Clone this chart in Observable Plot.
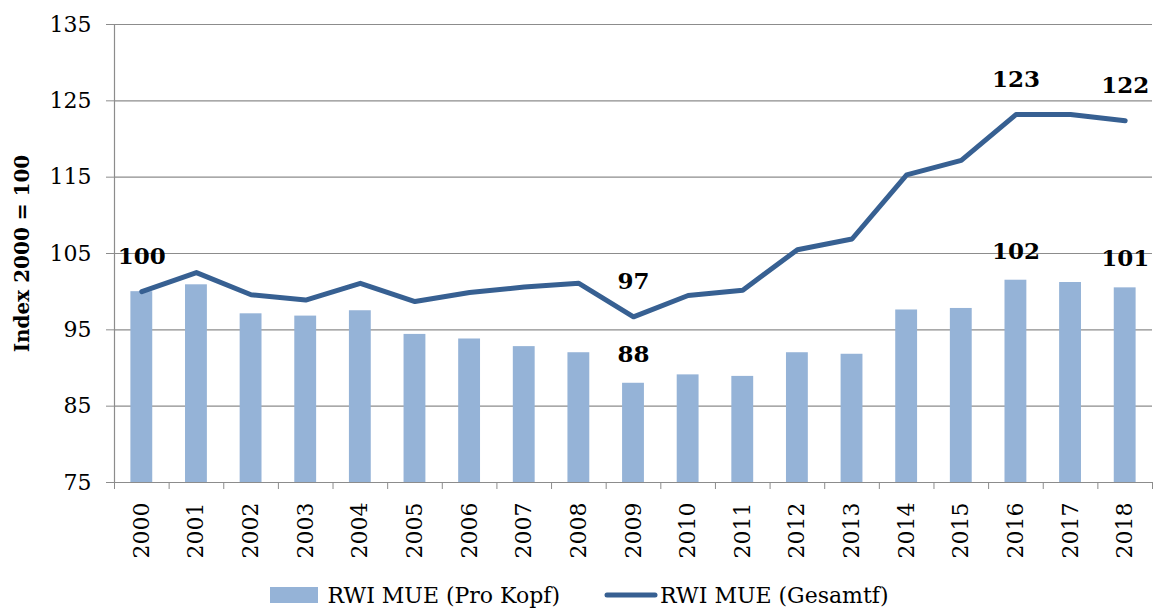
<!DOCTYPE html>
<html>
<head>
<meta charset="utf-8">
<script src="https://cdn.jsdelivr.net/npm/d3@7"></script>
<script src="https://cdn.jsdelivr.net/npm/@observablehq/plot@0.6"></script>
<style>
  body { margin: 0; background: #fff; font-family: "DejaVu Serif", serif; }
  #chart svg { display: block; }
  #legend { height: 38px; display: flex; justify-content: center; align-items: center; padding-top: 2px; box-sizing: border-box; font-size: 22px; color: #000; }
  .item { display: flex; align-items: center; }
  .item + .item { margin-left: 44px; }
  .label { margin-left: 9px; }
</style>
</head>
<body>
<div id="chart"></div>
<div id="legend"></div>
<script>
// ---- data ----
const years = [2000, 2001, 2002, 2003, 2004, 2005, 2006, 2007, 2008, 2009, 2010, 2011, 2012, 2013, 2014, 2015, 2016, 2017, 2018];
const proKopf = [100, 100.9, 97.1, 96.8, 97.5, 94.4, 93.8, 92.8, 92.0, 88.0, 89.1, 88.9, 92.0, 91.8, 97.6, 97.8, 101.5, 101.2, 100.5];
const gesamt = [100, 102.5, 99.6, 98.9, 101.1, 98.7, 99.9, 100.6, 101.1, 96.7, 99.5, 100.2, 105.5, 106.9, 115.3, 117.2, 123.2, 123.2, 122.4];
const seriesNames = ["RWI MUE (Pro Kopf)", "RWI MUE (Gesamtf)"];
const yTicks = [75, 85, 95, 105, 115, 125, 135];
const yTitle = "Index 2000 = 100";
const lineLabelYears = [2000, 2009, 2016, 2018];
const barLabelYears = [2009, 2016, 2018];

const barColor = "#95B3D7";
const lineColor = "#376092";
const gridColor = "#8c8c8c";

const rows = years.map((year, i) => ({year, pc: proKopf[i], ges: gesamt[i]}));
const lineLabels = rows.filter(d => lineLabelYears.includes(d.year));
const barLabels = rows.filter(d => barLabelYears.includes(d.year));
const boundaries = [years[0] - 0.5, ...years.map(y => y + 0.5)];

const chart = Plot.plot({
  width: 1159,
  height: 575,
  marginLeft: 114,
  marginRight: 7,
  marginTop: 24,
  marginBottom: 93,
  style: {fontFamily: "DejaVu Serif", fontSize: "22px", color: "#000", background: "#fff"},
  x: {domain: [years[0] - 0.5, years[years.length - 1] + 0.5]},
  y: {domain: [yTicks[0], yTicks[yTicks.length - 1]]},
  marks: [
    Plot.gridY(yTicks.slice(1), {stroke: gridColor, strokeOpacity: 1, strokeWidth: 1.2}),
    Plot.rectY(rows, {x1: d => d.year - 0.2, x2: d => d.year + 0.2, y1: yTicks[0], y2: "pc", fill: barColor}),
    Plot.lineY(rows, {x: "year", y: "ges", stroke: lineColor, strokeWidth: 5, strokeLinecap: "round", strokeLinejoin: "round"}),
    Plot.ruleX([years[0] - 0.5], {stroke: gridColor, strokeWidth: 1.2}),
    Plot.ruleY([yTicks[0]], {stroke: gridColor, strokeWidth: 1.2}),
    Plot.axisY(yTicks, {tickSize: 8, tickPadding: 15, stroke: gridColor, label: null, fontSize: 22, fill: "#000"}),
    Plot.axisX(boundaries, {tickSize: 7, tickFormat: () => "", stroke: gridColor, label: null}),
    Plot.axisX(years, {tickSize: 0, tickPadding: 20, tickRotate: -90, tickFormat: d => String(d), label: null, fontSize: 22, fill: "#000"}),
    Plot.text([yTitle], {frameAnchor: "left", textAnchor: "middle", dx: -92, rotate: -90, fontWeight: "bold", fontSize: 20, fill: "#000"}),
    Plot.text(lineLabels, {x: "year", y: "ges", text: d => String(Math.round(d.ges)), dy: -35, fontWeight: "bold", fontSize: 23, fill: "#000"}),
    Plot.text(barLabels, {x: "year", y: "pc", text: d => String(Math.round(d.pc)), dy: -29, fontWeight: "bold", fontSize: 23, fill: "#000"})
  ]
});
document.getElementById("chart").appendChild(chart);

// legend
const legend = document.getElementById("legend");
seriesNames.forEach((name, i) => {
  const item = document.createElement("div");
  item.className = "item";
  const sw = document.createElementNS("http://www.w3.org/2000/svg", "svg");
  if (i === 0) {
    sw.setAttribute("width", 48); sw.setAttribute("height", 16);
    sw.innerHTML = `<rect x="0" y="0" width="48" height="16" fill="${barColor}"/>`;
  } else {
    sw.setAttribute("width", 54); sw.setAttribute("height", 16);
    sw.innerHTML = `<line x1="3" y1="8" x2="51" y2="8" stroke="${lineColor}" stroke-width="5" stroke-linecap="round"/>`;
  }
  item.appendChild(sw);
  const lab = document.createElement("span");
  lab.className = "label";
  lab.textContent = name;
  if (i === 1) lab.style.marginLeft = "2px";
  item.appendChild(lab);
  legend.appendChild(item);
});
</script>
</body>
</html>
